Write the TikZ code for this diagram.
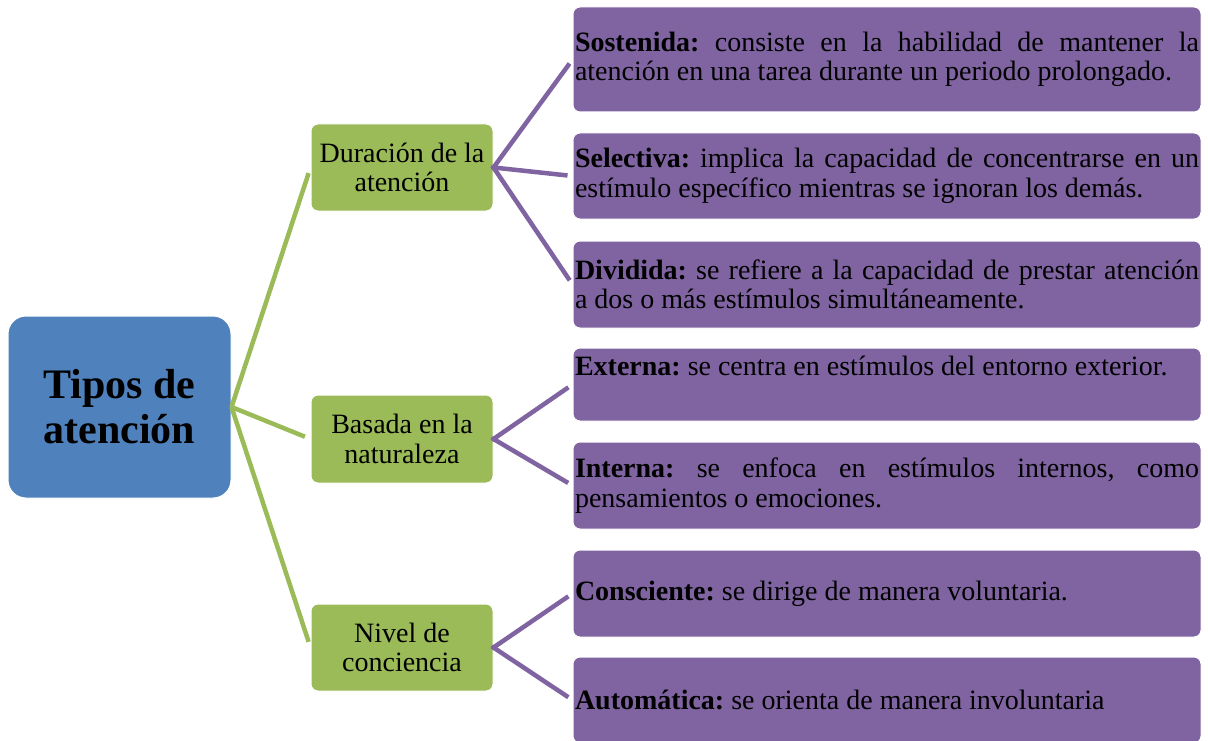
\documentclass[tikz,border=0pt]{standalone}
\usepackage{fontspec}
\setmainfont{Liberation Serif}
\hyphenpenalty=10000
\exhyphenpenalty=10000
\frenchspacing
\definecolor{rootblue}{HTML}{4F81BD}
\definecolor{catgreen}{HTML}{9BBB59}
\definecolor{itempurple}{HTML}{8064A2}
\begin{document}
\begin{tikzpicture}[x=1pt,y=-1pt,
  rootbox/.style={fill=rootblue, draw=white, line width=1pt, rounded corners=18pt,
    minimum width=223pt, minimum height=182pt, inner sep=0pt, align=center,
    font=\fontsize{42}{45}\selectfont\bfseries},
  catbox/.style={fill=catgreen, draw=white, line width=1pt, rounded corners=7pt,
    minimum width=182pt, inner sep=0pt, align=center,
    font=\fontsize{28}{29.5}\selectfont},
  itembox/.style={fill=itempurple, draw=white, line width=1pt, rounded corners=7pt,
    inner xsep=2pt, inner ysep=0pt, text width=624pt, align=justify,
    font=\fontsize{28}{29.5}\selectfont\frenchspacing},
  glink/.style={draw=catgreen, line width=4.5pt, shorten >=6pt},
  plink/.style={draw=itempurple, line width=4.5pt, shorten <=-2pt, shorten >=5pt}]
\useasboundingbox[fill=white] (0,0) rectangle (1208,741);

\node[rootbox] (root) at (119.5,407) {Tipos de\\atención};

\node[catbox, minimum height=87pt] (g1) at (402,167.5) {Duración de la\\atención};
\node[catbox, minimum height=88pt] (g2) at (402,439) {Basada en la\\naturaleza};
\node[catbox, minimum height=87pt] (g3) at (402,647.5) {Nivel de\\conciencia};

\node[itembox, minimum height=105pt] (p1) at (887,59.5)
  {\textbf{Sostenida:} consiste en la habilidad de mantener la\linebreak atención en una tarea durante un periodo prolongado.};
\node[itembox, minimum height=86pt] (p2) at (887,176)
  {\textbf{Selectiva:} implica la capacidad de concentrarse en un\linebreak estímulo específico mientras se ignoran los demás.};
\node[itembox, minimum height=87pt] (p3) at (887,284.5)
  {\textbf{Dividida:} se refiere a la capacidad de prestar atención\linebreak a dos o más estímulos simultáneamente.};
\node[itembox, minimum height=73pt] (p4) at (887,384.5)
  {\textbf{Externa:} se centra en estímulos del entorno exterior.\newline\strut};
\node[itembox, minimum height=87pt] (p5) at (887,485.5)
  {\textbf{Interna:} se enfoca en estímulos internos, como\linebreak pensamientos o emociones.};
\node[itembox, minimum height=87pt] (p6) at (887,593.5)
  {\textbf{Consciente:} se dirige de manera voluntaria.};
\node[itembox, minimum height=86pt] (p7) at (887,700)
  {\textbf{Automática:} se orienta de manera involuntaria};

\draw[glink] (root.east) -- (g1.west);
\draw[glink] (root.east) -- (g2.west);
\draw[glink] (root.east) -- (g3.west);

\draw[plink] (g1.east) -- (p1.west);
\draw[plink] (g1.east) -- (p2.west);
\draw[plink] (g1.east) -- (p3.west);
\draw[plink] (g2.east) -- (p4.west);
\draw[plink] (g2.east) -- (p5.west);
\draw[plink] (g3.east) -- (p6.west);
\draw[plink] (g3.east) -- (p7.west);
\end{tikzpicture}
\end{document}
